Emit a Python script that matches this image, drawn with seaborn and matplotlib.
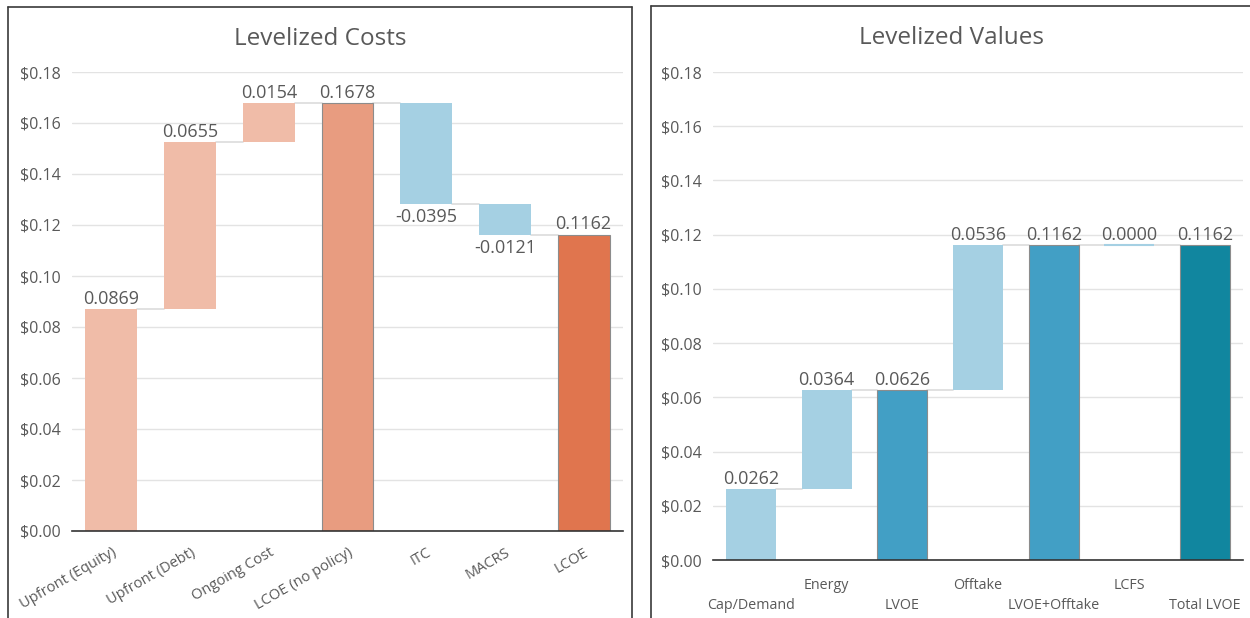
import matplotlib
matplotlib.use("Agg")
import matplotlib.pyplot as plt
from matplotlib.lines import Line2D
from matplotlib.ticker import FuncFormatter
import seaborn as sns

# data
cost_labels = ["Upfront (Equity)", "Upfront (Debt)", "Ongoing Cost", "LCOE (no policy)",
               "ITC", "MACRS", "LCOE"]
cost_deltas = [0.0869, 0.0655, 0.0154, 0.1678, -0.0395, -0.0121, 0.1162]
cost_totals = [False, False, False, True, False, False, True]
cost_colors = ["#F0BCA8", "#F0BCA8", "#F0BCA8", "#E89C80", "#A5D0E3", "#A5D0E3", "#E0754E"]

value_labels = ["Cap/Demand", "Energy", "LVOE", "Offtake", "LVOE+Offtake", "LCFS", "Total LVOE"]
value_deltas = [0.0262, 0.0364, 0.0626, 0.0536, 0.1162, 0.0000, 0.1162]
value_totals = [False, False, True, False, True, False, True]
value_colors = ["#A5D0E3", "#A5D0E3", "#429FC5", "#A5D0E3", "#429FC5", "#A5D0E3", "#11869F"]

TXT = "#595959"

sns.set_style("white")
plt.rcParams["font.family"] = ["Open Sans", "DejaVu Sans"]


def waterfall(ax, labels, deltas, totals, colors):
    bottoms, ends = [], []
    run = 0.0
    for d, t in zip(deltas, totals):
        if t:
            bottoms.append(0.0)
            run = d
        else:
            bottoms.append(run)
            run += d
        ends.append(run)

    sns.barplot(x=labels, y=deltas, hue=labels, palette=colors, legend=False,
                width=0.66, saturation=1, errorbar=None, ax=ax, zorder=3)
    patches = sorted(ax.patches, key=lambda p: p.get_x())
    for p, b, d, t, c in zip(patches, bottoms, deltas, totals, colors):
        p.set_y(b)
        if t:
            p.set_edgecolor("#8c8c8c")
            p.set_linewidth(0.8)
        elif d == 0:
            p.set_edgecolor(c)
            p.set_linewidth(1.5)
        else:
            p.set_linewidth(0)

    # connector lines between bars
    for i in range(len(patches) - 1):
        x0 = patches[i].get_x() + patches[i].get_width()
        x1 = patches[i + 1].get_x()
        ax.plot([x0, x1], [ends[i], ends[i]], color="#dcdcdc", lw=1.2, zorder=2)

    for p, b, d in zip(patches, bottoms, deltas):
        cx = p.get_x() + p.get_width() / 2
        if d < 0:
            ax.annotate(f"{d:.4f}", (cx, b + d), xytext=(0, -3), textcoords="offset points",
                        ha="center", va="top", fontsize=13, color=TXT)
        else:
            ax.annotate(f"{d:.4f}", (cx, b + d), xytext=(0, 1), textcoords="offset points",
                        ha="center", va="bottom", fontsize=13, color=TXT)

    ax.set_xlim(-0.5, len(labels) - 0.5)
    ax.set_ylim(0, 0.18)
    ax.set_yticks([0, 0.02, 0.04, 0.06, 0.08, 0.10, 0.12, 0.14, 0.16, 0.18])
    ax.yaxis.set_major_formatter(FuncFormatter(lambda v, _: f"${v:.2f}"))
    ax.yaxis.grid(True, color="#e3e3e3", lw=1)
    ax.set_axisbelow(True)
    for s in ["left", "right", "top"]:
        ax.spines[s].set_visible(False)
    ax.spines["bottom"].set_color("#333333")
    ax.spines["bottom"].set_linewidth(1.2)
    ax.spines["bottom"].set_zorder(4)
    ax.tick_params(axis="both", length=0, colors=TXT)
    ax.tick_params(axis="y", labelsize=11.5, pad=8)
    ax.set_xlabel("")
    ax.set_ylabel("")


fig = plt.figure(figsize=(12.5, 6.18), dpi=100)

ax1 = fig.add_axes([72 / 1250, 87 / 618, 551 / 1250, 459 / 618])
waterfall(ax1, cost_labels, cost_deltas, cost_totals, cost_colors)
ax1.tick_params(axis="x", labelsize=10.5, pad=10)
plt.setp(ax1.get_xticklabels(), rotation=30, ha="right", rotation_mode="anchor")

ax2 = fig.add_axes([713 / 1250, 58 / 618, 530 / 1250, 488 / 618])
waterfall(ax2, value_labels, value_deltas, value_totals, value_colors)
ax2.set_xticks(range(len(value_labels)))
ax2.set_xticklabels([lab if i % 2 else "\n" + lab for i, lab in enumerate(value_labels)],
                    linespacing=1.45)
ax2.tick_params(axis="x", labelsize=10.3, pad=13)

fig.text(320.5 / 1250, 1 - 39 / 618, "Levelized Costs", ha="center", va="center",
         fontsize=17.5, color=TXT)
fig.text(951.5 / 1250, 1 - 38 / 618, "Levelized Values", ha="center", va="center",
         fontsize=17.5, color=TXT)

# panel borders
bc = "#3a3a3a"
top1 = 1 - 7 / 618
fig.add_artist(Line2D([8 / 1250, 8 / 1250], [0, top1], color=bc, lw=1.2))
fig.add_artist(Line2D([632 / 1250, 632 / 1250], [0, top1], color=bc, lw=1.2))
fig.add_artist(Line2D([8 / 1250, 632 / 1250], [top1, top1], color=bc, lw=1.2))
top2 = 1 - 6 / 618
fig.add_artist(Line2D([651 / 1250, 651 / 1250], [0, top2], color=bc, lw=1.2))
fig.add_artist(Line2D([651 / 1250, 1], [top2, top2], color=bc, lw=1.2))

fig.savefig("out.png", dpi=100)
